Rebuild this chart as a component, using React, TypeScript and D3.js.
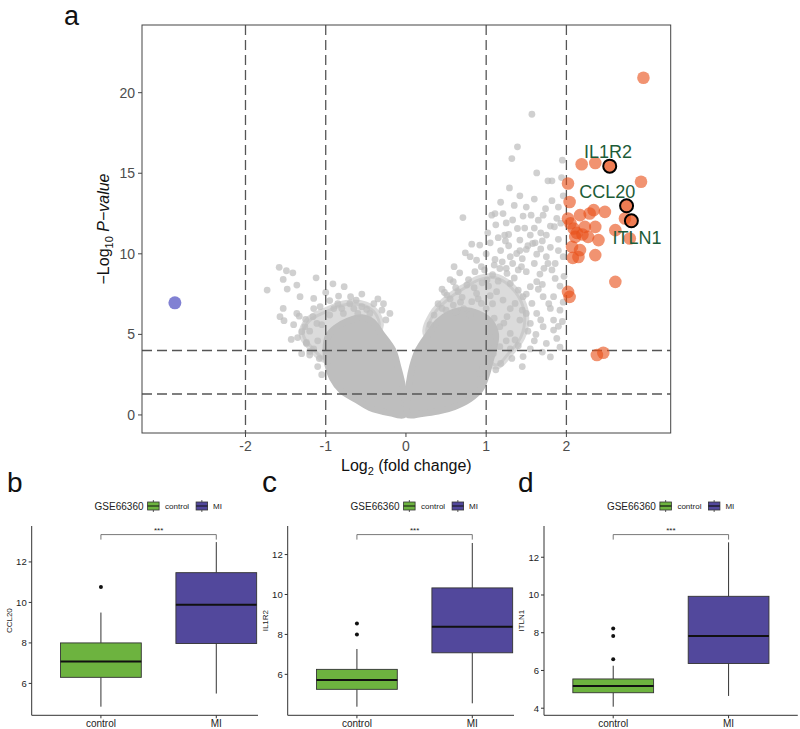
import React from "react";
import * as d3 from "d3";

const FONT = "'Liberation Sans', Arial, Helvetica, sans-serif";

// ---------------- Volcano data (panel a) ----------------
const xDomain = [-3.29, 3.3];
const yDomain = [-1.12, 24.2];
const volcanoXTicks = [-2, -1, 0, 1, 2];
const volcanoYTicks = [0, 5, 10, 15, 20];
const fcCut = [-2, -1, 1, 2];
const pCut = [1.3, 4];

// dense, overplotted core of non-significant genes (outline)
const coreLeft: [number, number][] = [
  [-0.02, 0.02], [-0.2, 0.12], [-0.45, 0.45], [-0.62, 0.95], [-0.8, 1.5], [-0.92, 2.3],
  [-0.98, 3.2], [-1.0, 4.0], [-0.97, 4.9], [-0.88, 5.4], [-0.72, 5.85], [-0.55, 6.05],
  [-0.42, 5.8], [-0.3, 5.0], [-0.16, 4.0], [-0.1, 3.0], [-0.05, 2.0], [-0.02, 1.0],
];
const coreRight: [number, number][] = [
  [0.02, 0.02], [0.2, 0.08], [0.4, 0.22], [0.6, 0.5], [0.8, 1.0], [0.93, 1.6], [1.0, 2.4],
  [1.05, 3.3], [1.1, 4.2], [1.12, 5.0], [1.05, 5.8], [0.9, 6.3], [0.7, 6.5], [0.55, 6.3],
  [0.4, 5.8], [0.28, 5.0], [0.15, 4.0], [0.08, 3.0], [0.04, 2.0], [0.02, 1.0],
];
// semi-dense halo around the core
const haloLeft: [number, number][] = [
  [-1.0, 3.4], [-1.18, 4.1], [-1.3, 5.0], [-1.22, 5.9], [-1.0, 6.5], [-0.75, 6.95],
  [-0.5, 6.85], [-0.36, 6.3], [-0.32, 5.4], [-0.6, 4.5],
];
const haloRight: [number, number][] = [
  [0.25, 5.0], [0.33, 6.3], [0.5, 7.2], [0.7, 7.9], [0.92, 8.5], [1.12, 8.6], [1.3, 8.1],
  [1.45, 7.1], [1.5, 6.0], [1.45, 4.8], [1.3, 3.8], [1.12, 3.0], [0.8, 4.5],
];
// scattered non-significant genes
const grayPts: [number, number][] = [
  [1.57, 18.66], [1.39, 16.64], [1.32, 15.91], [1.95, 15.81], [1.63, 15.02], [1.77, 14.53], [1.82, 14.53],
  [1.94, 14.73], [1.29, 14.09], [0.71, 12.25], [1.07, 12.4], [1.11, 12.5], [1.21, 12.5], [1.46, 12.34],
  [1.71, 12.4], [1.25, 11.92], [1.39, 11.57], [1.65, 12.09], [1.8, 11.72], [1.85, 11.68], [1.55, 11.16],
  [1.23, 11.16], [0.92, 10.54], [1.05, 10.68], [1.42, 10.85], [1.58, 10.64], [1.61, 10.68], [1.75, 11.16],
  [1.38, 10.02], [1.5, 10.27], [0.74, 10.06], [0.8, 9.82], [1.11, 9.65], [1.3, 9.82], [1.63, 9.98],
  [1.75, 9.82], [1.86, 9.4], [1.96, 9.82], [0.94, 9.2], [0.67, 8.82], [0.86, 8.89], [1.17, 9.09],
  [1.44, 9.2], [1.5, 8.89], [1.67, 8.74], [1.77, 9.4], [0.59, 8.27], [0.76, 8.06], [1.01, 8.37],
  [1.26, 8.78], [1.3, 8.16], [1.4, 7.75], [1.55, 7.96], [1.63, 8.27], [1.86, 8.47], [0.51, 7.44],
  [0.65, 7.65], [0.88, 7.54], [1.13, 7.65], [1.21, 7.13], [1.46, 7.34], [1.71, 7.34], [1.84, 7.34],
  [0.45, 6.61], [0.59, 6.82], [0.82, 7.03], [0.94, 6.92], [1.36, 6.92], [1.57, 6.92], [1.63, 6.3],
  [1.8, 6.61], [1.26, 6.1], [1.42, 5.89], [1.84, 5.89], [1.5, 6.3], [1.17, 5.48], [1.3, 5.06],
  [1.55, 5.68], [1.71, 5.48], [1.84, 5.27], [1.88, 4.75], [1.75, 4.44], [1.36, 4.65], [1.46, 3.62],
  [1.32, 3.51], [1.17, 4.24], [1.09, 3.82], [0.92, 2.58], [0.96, 3.0],
  [0.4, 6.9], [0.48, 7.6], [0.55, 7.2], [0.62, 7.9], [0.7, 7.3], [0.78, 8.4], [0.85, 7.9], [0.98, 9.0],
  [1.03, 8.0], [1.08, 8.7], [1.15, 8.3], [1.2, 9.5], [1.33, 9.4], [1.35, 8.5], [1.45, 9.7], [1.52, 10.5],
  [1.68, 10.3], [1.72, 9.1], [1.8, 10.4], [1.9, 10.9], [1.93, 11.9], [1.9, 12.9], [1.96, 13.6],
  [1.6, 11.6], [1.5, 12.9], [1.35, 13.0], [1.15, 11.0], [1.0, 10.0], [0.62, 6.4], [0.72, 6.6],
  [0.8, 6.2], [1.0, 6.6], [1.08, 6.9], [1.1, 6.0], [1.22, 5.7], [1.3, 6.6], [1.45, 6.5], [1.52, 5.2],
  [1.62, 5.0], [1.4, 4.3], [1.55, 4.1], [1.25, 4.6], [1.18, 3.2], [1.12, 2.8], [1.7, 3.9], [1.92, 4.2],
  [1.95, 5.8], [1.96, 7.0], [1.92, 8.0], [1.97, 8.6], [1.92, 6.5], [0.5, 6.5], [0.35, 6.2], [0.3, 5.6],
  [0.68, 7.0], [0.9, 7.2], [1.05, 7.4], [0.95, 8.2], [1.18, 10.2], [1.28, 10.5], [1.65, 7.8],
  [1.02, 11.3], [1.12, 11.8], [1.28, 11.2], [1.33, 12.1], [1.48, 11.6], [1.56, 12.4], [1.68, 11.3],
  [1.74, 12.8], [1.82, 13.3], [1.88, 12.2], [1.6, 13.4], [1.42, 13.6], [1.18, 13.2], [1.24, 10.8],
  [1.42, 10.2], [1.7, 10.8], [1.9, 10.2], [1.82, 9.0], [1.6, 9.4], [1.4, 9.0], [1.25, 9.1], [1.1, 9.3],
  [0.88, 9.6], [0.82, 10.6], [0.6, 9.2], [0.55, 8.4], [0.45, 7.8], [1.7, 8.1], [1.5, 7.5], [1.78, 6.9],
  [1.9, 5.5], [1.68, 5.9], [1.6, 4.6], [1.8, 3.6], [1.3, 4.1], [1.45, 3.0], [1.05, 4.8],
  [-1.58, 9.16], [-1.49, 8.95], [-1.41, 8.82], [-1.53, 8.41], [-1.73, 7.75], [-1.48, 7.81], [-1.36, 8.06],
  [-1.12, 8.51], [-1.32, 7.34], [-1.15, 7.23], [-0.91, 8.14], [-0.84, 7.38], [-0.77, 7.96], [-0.69, 7.34],
  [-0.62, 7.13], [-1.53, 6.61], [-1.07, 6.72], [-0.55, 6.72], [-0.49, 6.55], [-1.57, 6.1], [-1.52, 5.85],
  [-1.36, 6.3], [-1.33, 6.13], [-1.25, 5.93], [-1.16, 6.1], [-1.3, 5.17], [-1.43, 4.69], [-1.24, 4.44],
  [-1.2, 3.72], [-1.26, 5.48], [-1.11, 5.68], [-1.2, 5.2], [-1.1, 4.6], [-1.05, 5.6], [-1.15, 4.1],
  [-0.95, 6.2], [-0.9, 6.6], [-0.85, 6.9], [-0.7, 6.9], [-0.6, 6.3], [-0.45, 6.3], [-0.4, 6.9],
  [-0.3, 6.5], [-0.35, 7.2], [-1.24, 4.5], [-1.2, 3.94], [-1.08, 3.5], [-1.1, 3.0], [-1.05, 2.5],
  [-0.25, 5.9], [-0.78, 6.3], [-1.0, 7.6], [-0.95, 7.1], [-0.8, 6.6], [-0.65, 6.6], [-0.55, 7.5],
  [-1.4, 5.6], [-1.35, 4.8], [-1.15, 6.6], [-0.28, 6.9], [-0.2, 6.3], [-1.3, 3.8],
];
// up-regulated genes
const upPts: [number, number][] = [
  [2.96, 20.93], [2.19, 15.56], [2.36, 15.64], [2.93, 14.47], [2.02, 14.36], [2.04, 13.22],
  [2.17, 12.4], [2.34, 12.71], [2.48, 12.6], [2.73, 12.19], [2.61, 11.47], [2.02, 12.19], [2.09, 11.57],
  [2.23, 11.67], [2.36, 11.67], [2.11, 11.05], [2.27, 11.05], [2.4, 10.85], [2.07, 10.43], [2.17, 10.23],
  [2.36, 9.92], [2.79, 10.95], [2.02, 7.64], [2.04, 7.33], [2.61, 8.26], [2.38, 3.72], [2.46, 3.86],
  [2.08, 9.75], [2.15, 9.8], [2.13, 11.3], [2.05, 11.9], [2.2, 11.2], [2.29, 12.5],
];
// down-regulated genes
const downPts: [number, number][] = [[-2.88, 6.96]];
// hub genes
const hubGenes = ["IL1R2", "CCL20", "ITLN1"];
const hubX = [2.54, 2.75, 2.81];
const hubY = [15.44, 12.98, 12.05];
const hubLabelX = [2.52, 2.51, 2.88];
const hubLabelY = [15.93, 13.45, 10.6];

// ---------------- Box plot data (panels b, c, d) ----------------
const boxGenes = ["CCL20", "IL1R2", "ITLN1"];
const boxLetters = ["b", "c", "d"];
const groups = ["control", "MI"];
const ctrlLow = [4.85, 4.38, 4.08];
const ctrlQ1 = [6.3, 5.25, 4.82];
const ctrlMed = [7.08, 5.72, 5.18];
const ctrlQ3 = [8.0, 6.25, 5.55];
const ctrlHigh = [9.5, 7.27, 6.25];
const ctrlOut = [[10.76], [8.55, 8.0], [8.22, 7.82, 6.6]];
const miLow = [5.5, 4.55, 4.65];
const miQ1 = [7.97, 7.08, 6.37];
const miMed = [9.88, 8.38, 7.82];
const miQ3 = [11.47, 10.33, 9.93];
const miHigh = [12.98, 12.58, 12.79];
const bracketY = [13.35, 13.0, 13.2];
const boxYTicks = [[6, 8, 10, 12], [6, 8, 10, 12], [4, 6, 8, 10, 12]];
const legendTitle = "GSE66360";
const signif = "***";

const groupFill = ["#6DB33F", "#52489C"];

function Volcano() {
  const L = 142, R = 670.7, T = 25, B = 433;
  const x = d3.scaleLinear().domain(xDomain).range([L, R]);
  const y = d3.scaleLinear().domain(yDomain).range([B, T]);
  const area = d3
    .line<[number, number]>()
    .x((d) => x(d[0]))
    .y((d) => y(d[1]))
    .curve(d3.curveCatmullRomClosed);
  const grayFill = "#BEBEBE";
  const red = "#E8501A";
  return (
    <g fontFamily={FONT}>
      <defs>
        <clipPath id="volc-clip">
          <rect x={L} y={T} width={R - L} height={B - T} />
        </clipPath>
      </defs>
      <g clipPath="url(#volc-clip)">
        {[haloLeft, haloRight].map((c, i) => (
          <path key={"h" + i} d={area(c) || ""} fill={grayFill} fillOpacity={0.55} stroke={grayFill} strokeOpacity={0.55} strokeWidth={6} strokeLinejoin="round" />
        ))}
        {[coreLeft, coreRight].map((c, i) => (
          <path key={i} d={area(c) || ""} fill={grayFill} stroke={grayFill} strokeWidth={6.5} strokeLinejoin="round" />
        ))}
        {grayPts.map((p, i) => (
          <circle key={i} cx={x(p[0])} cy={y(p[1])} r={3.4} fill={grayFill} fillOpacity={0.72} />
        ))}
        {fcCut.map((v) => (
          <line key={"v" + v} x1={x(v)} x2={x(v)} y1={T} y2={B} stroke="#555" strokeWidth={1.3} strokeDasharray="10,5" />
        ))}
        {pCut.map((v) => (
          <line key={"h" + v} x1={L} x2={R} y1={y(v)} y2={y(v)} stroke="#555" strokeWidth={1.3} strokeDasharray="10,5" />
        ))}
        {downPts.map((p, i) => (
          <circle key={i} cx={x(p[0])} cy={y(p[1])} r={6.5} fill="#4B4BC0" fillOpacity={0.7} />
        ))}
        {upPts.map((p, i) => (
          <circle key={i} cx={x(p[0])} cy={y(p[1])} r={6.3} fill={red} fillOpacity={0.62} />
        ))}
        {hubGenes.map((g, i) => (
          <circle key={g} cx={x(hubX[i])} cy={y(hubY[i])} r={6.5} fill={red} fillOpacity={0.75} stroke="#000" strokeWidth={2} />
        ))}
        {hubGenes.map((g, i) => (
          <text key={"t" + g} x={x(hubLabelX[i])} y={y(hubLabelY[i])} textAnchor="middle" fontSize={18} fill="#1D5C38">
            {g}
          </text>
        ))}
      </g>
      <rect x={L} y={T} width={R - L} height={B - T} fill="none" stroke="#444" strokeWidth={1} />
      {volcanoXTicks.map((v) => (
        <g key={"xt" + v}>
          <line x1={x(v)} x2={x(v)} y1={B} y2={B + 4} stroke="#444" />
          <text x={x(v)} y={B + 18} textAnchor="middle" fontSize={14} fill="#4D4D4D">
            {v < 0 ? "-" + Math.abs(v) : String(v)}
          </text>
        </g>
      ))}
      {volcanoYTicks.map((v) => (
        <g key={"yt" + v}>
          <line x1={L - 4} x2={L} y1={y(v)} y2={y(v)} stroke="#444" />
          <text x={L - 7} y={y(v)} dy="0.35em" textAnchor="end" fontSize={14} fill="#4D4D4D">
            {v}
          </text>
        </g>
      ))}
      <text x={(L + R) / 2} y={471} textAnchor="middle" fontSize={16} fill="#111">
        <tspan>Log</tspan>
        <tspan fontSize={11} dy={4}>2</tspan>
        <tspan dy={-4}> (fold change)</tspan>
      </text>
      <text transform={`translate(109,${(T + B) / 2}) rotate(-90)`} textAnchor="middle" fontSize={16} fill="#111">
        <tspan>−Log</tspan>
        <tspan fontSize={11} dy={4}>10</tspan>
        <tspan dy={-4}> </tspan>
        <tspan fontStyle="italic">P−value</tspan>
      </text>
      <text x={64} y={25} fontSize={27} fill="#111">a</text>
    </g>
  );
}

function BoxPanel({ i }: { i: number }) {
  const lefts = [31.7, 287.7, 544];
  const clipR = [258, 514, 800];
  const width = 253.8;
  const top = 526, bottom = 715.3;
  const left = lefts[i];
  const right = left + width;
  const x = d3.scalePoint<string>().domain(groups).range([left, right]).padding(0.6);
  const step = x.step();
  const bw = step * 0.7;
  const allVals = [ctrlLow[i], miLow[i], ...ctrlOut[i], bracketY[i]];
  const lo = d3.min(allVals) as number;
  const hi = d3.max(allVals) as number;
  const pad = (hi - lo) * 0.05;
  const y = d3.scaleLinear().domain([lo - pad, hi + pad]).range([bottom, top]);
  const stats = [
    { low: ctrlLow[i], q1: ctrlQ1[i], med: ctrlMed[i], q3: ctrlQ3[i], high: ctrlHigh[i], out: ctrlOut[i] },
    { low: miLow[i], q1: miQ1[i], med: miMed[i], q3: miQ3[i], high: miHigh[i], out: [] as number[] },
  ];
  const cx = (left + right) / 2;
  const ly = 506;
  const letterX = [7, 262, 518];
  const letterSize = [28, 30, 28];
  const Key = ({ kx, fill }: { kx: number; fill: string }) => (
    <g>
      <line x1={kx + 5.75} x2={kx + 5.75} y1={ly - 6} y2={ly + 6} stroke="#333" strokeWidth={0.8} />
      <rect x={kx} y={ly - 4} width={11.5} height={8} fill={fill} stroke="#333" strokeWidth={0.8} />
      <line x1={kx} x2={kx + 11.5} y1={ly} y2={ly} stroke="#111" strokeWidth={1.2} />
    </g>
  );
  return (
    <g fontFamily={FONT}>
      <defs>
        <clipPath id={"box-clip-" + i}>
          <rect x={left - 40} y={440} width={clipR[i] - left + 40} height={289} />
        </clipPath>
      </defs>
      <g clipPath={`url(#box-clip-${i})`}>
        {/* legend */}
        <text x={cx - 64} y={ly} dy="0.35em" fontSize={10} fill="#222">{legendTitle}</text>
        <Key kx={cx - 11} fill={groupFill[0]} />
        <text x={cx + 6.5} y={ly} dy="0.35em" fontSize={8} fill="#222">{groups[0]}</text>
        <Key kx={cx + 37.5} fill={groupFill[1]} />
        <text x={cx + 54.5} y={ly} dy="0.35em" fontSize={8} fill="#222">{groups[1]}</text>
        {/* axes */}
        <line x1={left} x2={left} y1={top} y2={bottom} stroke="#333" strokeWidth={1} />
        <line x1={left} x2={right} y1={bottom} y2={bottom} stroke="#333" strokeWidth={1} />
        {boxYTicks[i].map((v) => (
          <g key={v}>
            <line x1={left - 3} x2={left} y1={y(v)} y2={y(v)} stroke="#333" />
            <text x={left - 5} y={y(v)} dy="0.35em" textAnchor="end" fontSize={9.5} fill="#222">{v}</text>
          </g>
        ))}
        {groups.map((g) => (
          <g key={g}>
            <line x1={x(g)} x2={x(g)} y1={bottom} y2={bottom + 3} stroke="#333" />
            <text x={x(g)} y={bottom + 12} textAnchor="middle" fontSize={10} fill="#222">{g}</text>
          </g>
        ))}
        <text
          transform={`translate(${left - 20},${(top + bottom) / 2}) rotate(-90)`}
          textAnchor="middle"
          fontSize={8}
          fill="#222"
        >
          {boxGenes[i]}
        </text>
        {/* boxes */}
        {stats.map((s, k) => {
          const c = x(groups[k]) as number;
          return (
            <g key={k}>
              <line x1={c} x2={c} y1={y(s.low)} y2={y(s.q1)} stroke="#333" strokeWidth={1} />
              <line x1={c} x2={c} y1={y(s.q3)} y2={y(s.high)} stroke="#333" strokeWidth={1} />
              <rect x={c - bw / 2} y={y(s.q3)} width={bw} height={y(s.q1) - y(s.q3)} fill={groupFill[k]} stroke="#333" strokeWidth={0.9} />
              <line x1={c - bw / 2} x2={c + bw / 2} y1={y(s.med)} y2={y(s.med)} stroke="#111" strokeWidth={2} />
              {s.out.map((o, j) => (
                <circle key={j} cx={c} cy={y(o)} r={2} fill="#111" />
              ))}
            </g>
          );
        })}
        {/* significance bracket */}
        <path
          d={`M${x(groups[0])},${y(bracketY[i]) + 5}V${y(bracketY[i])}H${x(groups[1])}V${y(bracketY[i]) + 5}`}
          fill="none"
          stroke="#555"
          strokeWidth={0.8}
        />
        <text x={((x(groups[0]) as number) + (x(groups[1]) as number)) / 2} y={y(bracketY[i]) - 2} textAnchor="middle" fontSize={8} fill="#222">
          {signif}
        </text>
      </g>
      <text x={letterX[i]} y={492} fontSize={letterSize[i]} fill="#111">{boxLetters[i]}</text>
    </g>
  );
}

export default function App() {
  return (
    <svg
      width={800}
      height={729}
      viewBox="0 0 800 729"
      style={{ position: "absolute", left: 0, top: 0, background: "#fff" }}
    >
      <rect width={800} height={729} fill="#fff" />
      <Volcano />
      {boxGenes.map((_, i) => (
        <BoxPanel key={i} i={i} />
      ))}
    </svg>
  );
}
